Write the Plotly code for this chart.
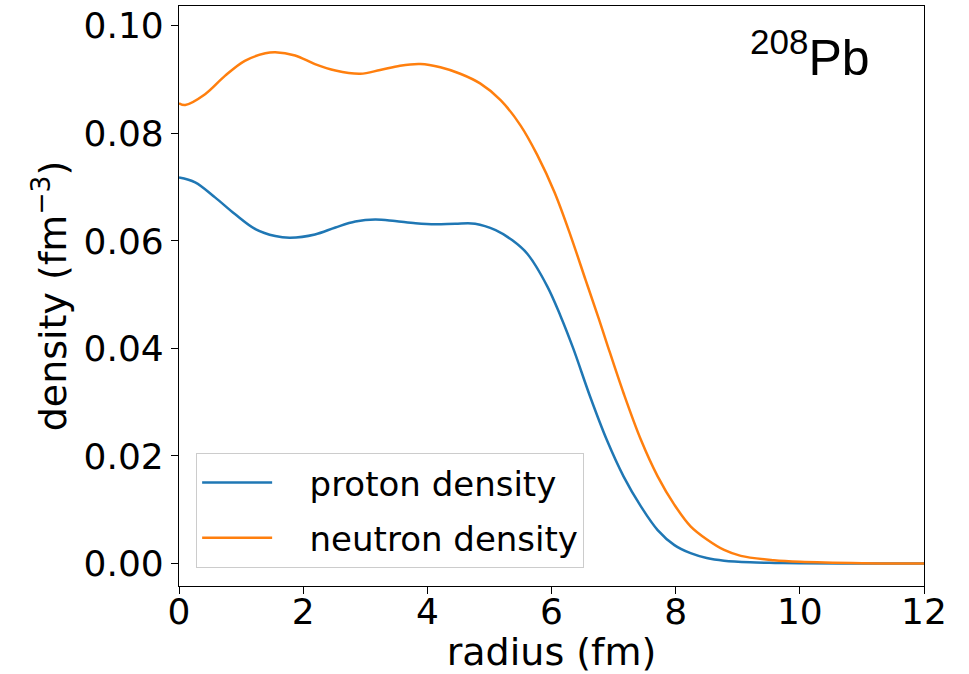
import plotly.graph_objects as go

# proton density
r_p = [0.0, 0.26, 0.58, 0.9, 1.23, 1.55, 1.79, 2.19, 2.52, 2.84, 3.16, 3.48, 3.81, 4.13, 4.45, 4.77,
       5.1, 5.37, 5.61, 5.93, 6.15, 6.35, 6.62, 6.89, 7.16, 7.44, 7.71, 7.98, 8.24, 8.5, 8.78,
       9.2, 9.6, 10.0, 11.0, 12.0]
rho_p = [0.0718, 0.0709, 0.0681, 0.0650, 0.0622, 0.0609, 0.0606, 0.0612, 0.0625, 0.0636, 0.0640,
         0.0637, 0.0633, 0.0631, 0.0632, 0.0632, 0.0620, 0.0601, 0.0576, 0.0516, 0.0459, 0.0400,
         0.0311, 0.0230, 0.0162, 0.0106, 0.0062, 0.0034, 0.0019, 0.0010, 0.0005, 0.0002, 0.0001,
         0.00004, 0.0, 0.0]

# neutron density
r_n = [0.0, 0.1, 0.42, 0.74, 1.06, 1.39, 1.55, 1.87, 2.19, 2.52, 2.92, 3.24, 3.56, 3.89, 4.21,
       4.53, 4.85, 5.18, 5.5, 5.77, 6.05, 6.31, 6.55, 6.76, 6.89, 7.16, 7.44, 7.71, 7.98, 8.24,
       8.51, 8.78, 9.05, 9.58, 10.0, 11.0, 12.0]
rho_n = [0.0856, 0.0853, 0.0873, 0.0907, 0.0935, 0.0949, 0.0951, 0.0945, 0.0929, 0.0917, 0.0911,
         0.0918, 0.0926, 0.0929, 0.0923, 0.0911, 0.0893, 0.0862, 0.0815, 0.0760, 0.0690, 0.0609,
         0.0527, 0.0456, 0.0410, 0.0317, 0.0230, 0.0162, 0.0109, 0.0069, 0.0044, 0.0025, 0.0014,
         0.0006, 0.0003, 0.00005, 0.0]

x_ticks = [0, 2, 4, 6, 8, 10, 12]
y_ticks = [0.00, 0.02, 0.04, 0.06, 0.08, 0.10]
y_tick_labels = ["0.00", "0.02", "0.04", "0.06", "0.08", "0.10"]

FONT = "DejaVu Sans"
PAD = "\u00a0\u00a0\u00a0"

fig = go.Figure()
fig.add_trace(go.Scatter(x=r_p, y=rho_p, mode="lines", name=PAD + "proton density",
                         legendgroup="p",
                         line=dict(color="#1f77b4", width=2.5, shape="spline", smoothing=1.0)))
fig.add_trace(go.Scatter(x=r_n, y=rho_n, mode="lines", name=PAD + "neutron density",
                         legendgroup="n",
                         line=dict(color="#ff7f0e", width=2.5, shape="spline", smoothing=1.0)))

axis_common = dict(showline=True, linecolor="black", linewidth=1.2, mirror=True,
                   ticks="outside", ticklen=7, tickwidth=1.2, tickcolor="black",
                   showgrid=False, zeroline=False, automargin=False,
                   tickfont=dict(family=FONT, size=36, color="black"))

fig.update_layout(
    width=969, height=674,
    margin=dict(l=179, r=45, t=6, b=88),
    paper_bgcolor="white", plot_bgcolor="white",
    xaxis=dict(range=[0, 12], tickvals=x_ticks, ticktext=[str(v) for v in x_ticks],
               ticklabelstandoff=-13,
               title=dict(text="radius (fm)", font=dict(family=FONT, size=38, color="black"),
                          standoff=11),
               **axis_common),
    yaxis=dict(range=[-0.0042, 0.1037], tickvals=y_ticks, ticktext=y_tick_labels,
               title=dict(text="density (fm<sup>−3</sup>)",
                          font=dict(family=FONT, size=38, color="black"), standoff=5),
               **axis_common),
    legend=dict(x=0.023, y=0.031, xanchor="left", yanchor="bottom",
                bgcolor="rgba(255,255,255,0.8)", bordercolor="#cccccc", borderwidth=1,
                itemwidth=70, tracegroupgap=8,
                font=dict(family=FONT, size=34, color="black")),
    showlegend=True,
)
fig.add_annotation(text="<sup>208</sup>Pb", x=(872 - 179) / 745, y=(586 - 88) / 580,
                   xref="paper", yref="paper", xanchor="right", yanchor="bottom",
                   showarrow=False, font=dict(family="Liberation Sans", size=50, color="black"))

fig.write_html("out.html")
